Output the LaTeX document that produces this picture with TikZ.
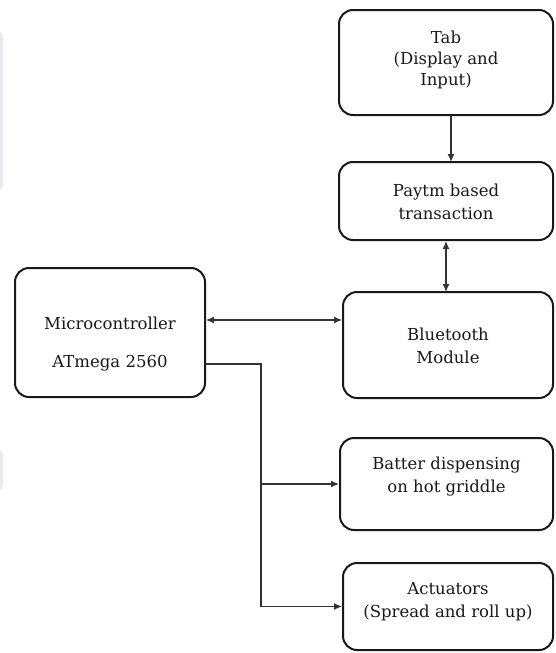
\documentclass[tikz,border=0pt]{standalone}
\usepackage{fontspec}
\setmainfont{DejaVu Serif}
\usetikzlibrary{arrows.meta}
\begin{document}
\begin{tikzpicture}[x=1pt,y=-1pt,
  box/.style={draw=black!90, line width=2pt, rounded corners=14pt, inner sep=0pt},
  lbl/.style={align=center, font=\fontsize{16.5}{23}\selectfont, text=black!90, inner sep=0pt},
  conn/.style={draw=black!80, line width=1.3pt},
  tip/.style={-{Latex[length=8pt,width=7pt]}},
  tips/.style={{Latex[length=8pt,width=7pt]}-{Latex[length=8pt,width=7pt]}}]
\useasboundingbox (0,0) rectangle (555,653);
\fill[white] (0,0) rectangle (555,653);
% faint artefacts at left edge
\fill[blue!10!gray!15, rounded corners=4pt] (-10,32) rectangle (3,190);
\fill[blue!10!gray!15, rounded corners=4pt] (-10,450) rectangle (3,490);
% boxes
\node[box, minimum width=214pt, minimum height=105pt] (tab) at (446,62.5) {};
\node[box, minimum width=214pt, minimum height=78pt] (paytm) at (446,201) {};
\node[box, minimum width=210pt, minimum height=106pt] (bt) at (448,345) {};
\node[box, minimum width=213pt, minimum height=92pt] (batter) at (446.5,484) {};
\node[box, minimum width=210pt, minimum height=87pt] (act) at (448,606.5) {};
\node[box, minimum width=190pt, minimum height=129pt] (mcu) at (110,332.5) {};
% texts
\node[lbl, font=\fontsize{16.5}{21}\selectfont] (tabT) at (446,60) {Tab\\(Display and\\Input)};
\node[lbl] (paytmT) at (446,201.5) {Paytm based\\transaction};
\node[lbl] (btT) at (448,345.5) {Bluetooth\\Module};
\node[lbl] (batterT) at (446.5,476.5) {Batter dispensing\\on hot griddle};
\node[lbl] (actT) at (448,601.5) {Actuators\\(Spread and roll up)};
\node[lbl] (mcuT1) at (110,323) {Microcontroller};
\node[lbl] (mcuT2) at (110,363) {ATmega 2560};
% connectors
\coordinate (tabB) at (451,115);
\coordinate (paytmT0) at (451,162);
\draw[conn, tip] (tabB) -- (paytmT0);
\draw[conn, tips] (446,241) -- (446,292);
\draw[conn, tips] (mcu.east |- 0,320) -- (bt.west |- 0,320);
\coordinate (mcuOut) at (205,364);
\coordinate (bend) at (261,364);
\draw[conn] (mcuOut) -- (bend) -- (bend |- act.west);
\draw[conn, tip] (bend |- batter.west) -- (batter.west);
\draw[conn, tip] (bend |- act.west) -- (act.west);
\end{tikzpicture}
\end{document}
